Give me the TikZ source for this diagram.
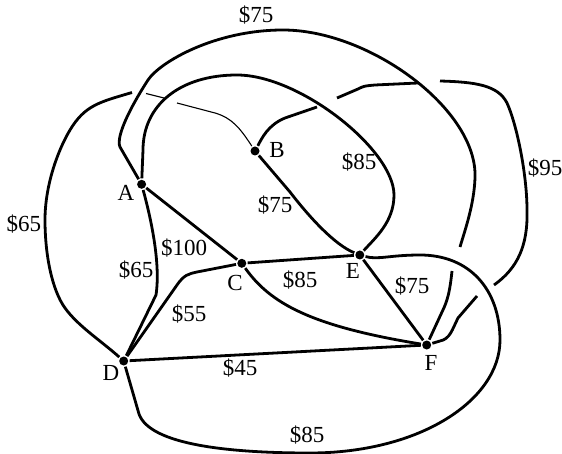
\documentclass[tikz,border=0pt]{standalone}
\usepackage{fontspec}
\setmainfont{Liberation Serif}

\begin{document}
\begin{tikzpicture}[x=0.5pt, y=-0.5pt, line width=1.4pt, line join=round,
    vertex/.style={circle, fill=black, inner sep=0pt, minimum size=4.5pt},
    cost/.style={font=\fontsize{11.5}{13}\selectfont, inner sep=0pt},
    thin edge/.style={line width=0.55pt}]
    \useasboundingbox (0,0) rectangle (562,454);

    \node (A) [vertex] at (141.6,184.3) {};
    \node (B) [vertex] at (255,151) {};
    \node (C) [vertex] at (241.8,263.3) {};
    \node (D) [vertex] at (123.7,361) {};
    \node (E) [vertex] at (359.8,255) {};
    \node (F) [vertex] at (426.7,345) {};

    \node (nameA) [cost] at (126,193) {A};
    \node (nameB) [cost] at (277,150) {B};
    \node (nameC) [cost] at (235,283) {C};
    \node (nameD) [cost] at (111,373) {D};
    \node (nameE) [cost] at (353,271) {E};
    \node (nameF) [cost] at (431,363) {F};

    \node (cAF) [cost] at (256,15) {\$75};
    \node (cAE) [cost] at (359,162) {\$85};
    \node (cBF) [cost] at (545,168) {\$95};
    \node (cBD) [cost] at (24,224) {\$65};
    \node (cBE) [cost] at (275,205) {\$75};
    \node (cAC) [cost] at (184,248) {\$100};
    \node (cAD) [cost] at (136,270) {\$65};
    \node (cCE) [cost] at (300,280) {\$85};
    \node (cEF) [cost] at (412,286) {\$75};
    \node (cCD) [cost] at (189,314) {\$55};
    \node (cDF) [cost] at (240,368) {\$45};
    \node (cDE) [cost] at (307,435) {\$85};

    % gap ends at crossings
    \coordinate (bd1) at (177,103);
    \coordinate (bd2) at (166,98.5);
    \coordinate (bd3) at (146,93.5);
    \coordinate (bd4) at (132,92.5);
    \coordinate (bf1) at (317,107);
    \coordinate (bf2) at (337,98);
    \coordinate (bf3) at (418,83);
    \coordinate (bf4) at (440,81);
    \coordinate (bf5) at (494,285);
    \coordinate (bf6) at (477,296);
    \coordinate (af1) at (460,247);
    \coordinate (af2) at (452,271);

    % edges
    \draw (A) -- (C);
    \draw (C) -- (E);
    \draw (E) -- (F);
    \draw (D) -- (F);
    \draw (C) .. controls (270,303) and (310,326) .. (F);
    \draw (A) .. controls (150,215) and (161,262) .. (156,295) -- (D);
    \draw (D) -- (177,285) .. controls (184,275) and (188,274) .. (197,272) -- (C);
    \draw (B) -- (290,192) .. controls (310,218) and (335,245) .. (E);
    \draw (D) -- (139,414) .. controls (150,445) and (230,453) .. (310,453)
        .. controls (420,453) and (500,400) .. (500,340)
        .. controls (500,290) and (470,255) .. (420,255)
        .. controls (390,255) and (378,260) .. (E);
    \draw (A) -- (143,150) .. controls (143,105) and (180,75) .. (237,75)
        .. controls (300,75) and (394,150) .. (394,195)
        .. controls (394,222) and (375,238) .. (E);
    \draw (A) -- (120,147) .. controls (115,135) and (135,100) .. (148,80)
        .. controls (160,62) and (215,30) .. (283,30)
        .. controls (370,30) and (478,110) .. (475,178)
        .. controls (474,205) and (465,230) .. (af1);
    \draw (af2) .. controls (450,290) and (448,300) .. (442,312) -- (F);
    \draw (B) .. controls (262,138) and (268,125) .. (285,118) -- (bf1);
    \draw (bf2) -- (358,89) .. controls (364,86) .. (375,85) -- (bf3);
    \draw (bf4) .. controls (475,82) and (498,85) .. (507,103)
        .. controls (517,125) and (527,175) .. (527,210)
        .. controls (528,245) and (518,268) .. (bf5);
    \draw (bf6) -- (458,318) .. controls (452,330) and (450,339) .. (440,341) -- (F);
    \draw [thin edge] (B) .. controls (240,128) and (232,118) .. (215,113) -- (bd1);
    \draw [thin edge] (bd2) -- (bd3);
    \draw (bd4) .. controls (100,102) and (85,105) .. (70,130)
        .. controls (58,150) and (45,185) .. (45,220)
        .. controls (45,255) and (52,290) .. (65,308)
        .. controls (78,326) and (100,340) .. (D);
\end{tikzpicture}
\end{document}
